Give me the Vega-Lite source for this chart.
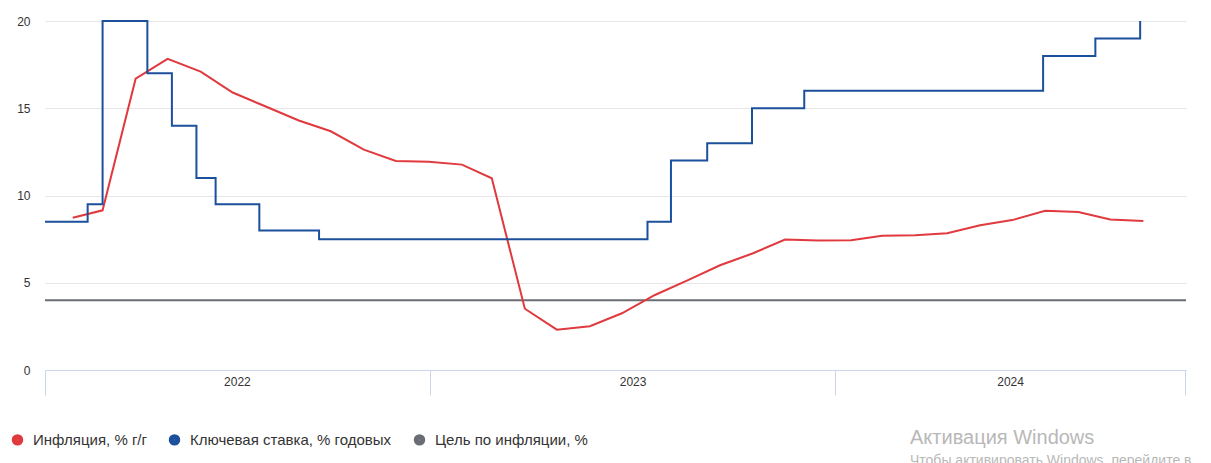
{
  "$schema": "https://vega.github.io/schema/vega-lite/v6.json",
  "width": 1141,
  "height": 349,
  "autosize": "none",
  "padding": {"left": 45, "top": 21, "right": 25, "bottom": 93},
  "background": "white",
  "config": {"view": {"stroke": null}, "font": "Liberation Sans"},
  "title": {
    "text": "Активация Windows",
    "subtitle": "Чтобы активировать Windows, перейдите в",
    "orient": "bottom",
    "anchor": "start",
    "dx": 900,
    "offset": -27,
    "fontSize": 20,
    "fontWeight": "normal",
    "color": "#b8b8b8",
    "subtitleColor": "#b8b8b8",
    "subtitleFontSize": 14,
    "subtitlePadding": 6
  },
  "datasets": {
    "inflation": [
      {"date": "2022-01-31", "value": 8.73, "series": "Инфляция, % г/г"},
      {"date": "2022-02-28", "value": 9.15, "series": "Инфляция, % г/г"},
      {"date": "2022-03-31", "value": 16.69, "series": "Инфляция, % г/г"},
      {"date": "2022-04-30", "value": 17.83, "series": "Инфляция, % г/г"},
      {"date": "2022-05-31", "value": 17.1, "series": "Инфляция, % г/г"},
      {"date": "2022-06-30", "value": 15.9, "series": "Инфляция, % г/г"},
      {"date": "2022-07-31", "value": 15.1, "series": "Инфляция, % г/г"},
      {"date": "2022-08-31", "value": 14.3, "series": "Инфляция, % г/г"},
      {"date": "2022-09-30", "value": 13.68, "series": "Инфляция, % г/г"},
      {"date": "2022-10-31", "value": 12.63, "series": "Инфляция, % г/г"},
      {"date": "2022-11-30", "value": 11.98, "series": "Инфляция, % г/г"},
      {"date": "2022-12-31", "value": 11.94, "series": "Инфляция, % г/г"},
      {"date": "2023-01-31", "value": 11.77, "series": "Инфляция, % г/г"},
      {"date": "2023-02-28", "value": 10.99, "series": "Инфляция, % г/г"},
      {"date": "2023-03-31", "value": 3.51, "series": "Инфляция, % г/г"},
      {"date": "2023-04-30", "value": 2.31, "series": "Инфляция, % г/г"},
      {"date": "2023-05-31", "value": 2.51, "series": "Инфляция, % г/г"},
      {"date": "2023-06-30", "value": 3.25, "series": "Инфляция, % г/г"},
      {"date": "2023-07-31", "value": 4.3, "series": "Инфляция, % г/г"},
      {"date": "2023-08-31", "value": 5.15, "series": "Инфляция, % г/г"},
      {"date": "2023-09-30", "value": 6.0, "series": "Инфляция, % г/г"},
      {"date": "2023-10-31", "value": 6.69, "series": "Инфляция, % г/г"},
      {"date": "2023-11-30", "value": 7.48, "series": "Инфляция, % г/г"},
      {"date": "2023-12-31", "value": 7.42, "series": "Инфляция, % г/г"},
      {"date": "2024-01-31", "value": 7.44, "series": "Инфляция, % г/г"},
      {"date": "2024-02-29", "value": 7.69, "series": "Инфляция, % г/г"},
      {"date": "2024-03-31", "value": 7.72, "series": "Инфляция, % г/г"},
      {"date": "2024-04-30", "value": 7.84, "series": "Инфляция, % г/г"},
      {"date": "2024-05-31", "value": 8.3, "series": "Инфляция, % г/г"},
      {"date": "2024-06-30", "value": 8.59, "series": "Инфляция, % г/г"},
      {"date": "2024-07-31", "value": 9.13, "series": "Инфляция, % г/г"},
      {"date": "2024-08-31", "value": 9.05, "series": "Инфляция, % г/г"},
      {"date": "2024-09-30", "value": 8.63, "series": "Инфляция, % г/г"},
      {"date": "2024-10-31", "value": 8.54, "series": "Инфляция, % г/г"}
    ],
    "keyrate": [
      {"date": "2022-01-05", "value": 8.5, "series": "Ключевая ставка, % годовых"},
      {"date": "2022-02-14", "value": 9.5, "series": "Ключевая ставка, % годовых"},
      {"date": "2022-02-28", "value": 20, "series": "Ключевая ставка, % годовых"},
      {"date": "2022-04-11", "value": 17, "series": "Ключевая ставка, % годовых"},
      {"date": "2022-05-04", "value": 14, "series": "Ключевая ставка, % годовых"},
      {"date": "2022-05-27", "value": 11, "series": "Ключевая ставка, % годовых"},
      {"date": "2022-06-14", "value": 9.5, "series": "Ключевая ставка, % годовых"},
      {"date": "2022-07-25", "value": 8, "series": "Ключевая ставка, % годовых"},
      {"date": "2022-09-19", "value": 7.5, "series": "Ключевая ставка, % годовых"},
      {"date": "2023-07-24", "value": 8.5, "series": "Ключевая ставка, % годовых"},
      {"date": "2023-08-15", "value": 12, "series": "Ключевая ставка, % годовых"},
      {"date": "2023-09-18", "value": 13, "series": "Ключевая ставка, % годовых"},
      {"date": "2023-10-30", "value": 15, "series": "Ключевая ставка, % годовых"},
      {"date": "2023-12-18", "value": 16, "series": "Ключевая ставка, % годовых"},
      {"date": "2024-07-29", "value": 18, "series": "Ключевая ставка, % годовых"},
      {"date": "2024-09-16", "value": 19, "series": "Ключевая ставка, % годовых"},
      {"date": "2024-10-28", "value": 21, "series": "Ключевая ставка, % годовых"}
    ],
    "target": [
      {"value": 4, "series": "Цель по инфляции, %"}
    ]
  },
  "layer": [
    {
      "data": {"name": "target"},
      "mark": {"type": "rule", "strokeWidth": 2},
      "encoding": {
        "y": {
          "field": "value",
          "type": "quantitative",
          "scale": {"domain": [0, 20], "clamp": true, "nice": false},
          "axis": {
            "values": [0, 5, 10, 15, 20],
            "grid": true,
            "gridColor": "#e6e6e6",
            "domain": false,
            "ticks": false,
            "labelPadding": 15,
            "labelFontSize": 12,
            "labelColor": "#333333",
            "title": null
          }
        },
        "color": {
          "field": "series",
          "type": "nominal",
          "scale": {
            "domain": ["Инфляция, % г/г", "Ключевая ставка, % годовых", "Цель по инфляции, %"],
            "range": ["#e0393e", "#1c4f9c", "#6a6d73"]
          },
          "legend": {
            "orient": "none",
            "legendX": -35,
            "legendY": 411,
            "direction": "horizontal",
            "title": null,
            "symbolType": "circle",
            "symbolSize": 30,
            "symbolStrokeWidth": 6,
            "labelFontSize": 15,
            "labelLimit": 0,
            "labelColor": "#333333",
            "labelOffset": 8,
            "columnPadding": 12
          }
        }
      }
    },
    {
      "data": {"name": "inflation"},
      "mark": {"type": "line", "strokeWidth": 2},
      "encoding": {
        "x": {
          "field": "date",
          "type": "temporal",
          "scale": {
            "type": "utc",
            "domain": [
              {"year": 2022, "month": 1, "date": 5, "utc": true},
              {"year": 2024, "month": 12, "date": 10, "utc": true}
            ]
          },
          "axis": {
            "orient": "bottom",
            "values": [
              {"year": 2022, "month": 1, "date": 5, "utc": true},
              {"year": 2023, "month": 1, "date": 1, "utc": true},
              {"year": 2024, "month": 1, "date": 16, "utc": true},
              {"year": 2024, "month": 12, "date": 9, "utc": true}
            ],
            "labels": false,
            "grid": false,
            "ticks": true,
            "tickSize": 25,
            "tickColor": "#ccd6eb",
            "domainColor": "#ccd6eb",
            "title": null
          }
        },
        "y": {"field": "value", "type": "quantitative"},
        "color": {"field": "series", "type": "nominal"}
      }
    },
    {
      "data": {"name": "keyrate"},
      "mark": {"type": "line", "strokeWidth": 2, "interpolate": "step-after"},
      "encoding": {
        "x": {
          "field": "date",
          "type": "temporal",
          "axis": {
            "orient": "bottom",
            "values": [
              {"year": 2022, "month": 7, "date": 4, "utc": true},
              {"year": 2023, "month": 7, "date": 10, "utc": true},
              {"year": 2024, "month": 6, "date": 28, "utc": true}
            ],
            "format": "%Y",
            "ticks": false,
            "domain": false,
            "grid": false,
            "labelPadding": 6,
            "labelFontSize": 12,
            "labelColor": "#333333",
            "title": null
          }
        },
        "y": {"field": "value", "type": "quantitative"},
        "color": {"field": "series", "type": "nominal"}
      }
    }
  ],
  "resolve": {"axis": {"x": "independent"}}
}
